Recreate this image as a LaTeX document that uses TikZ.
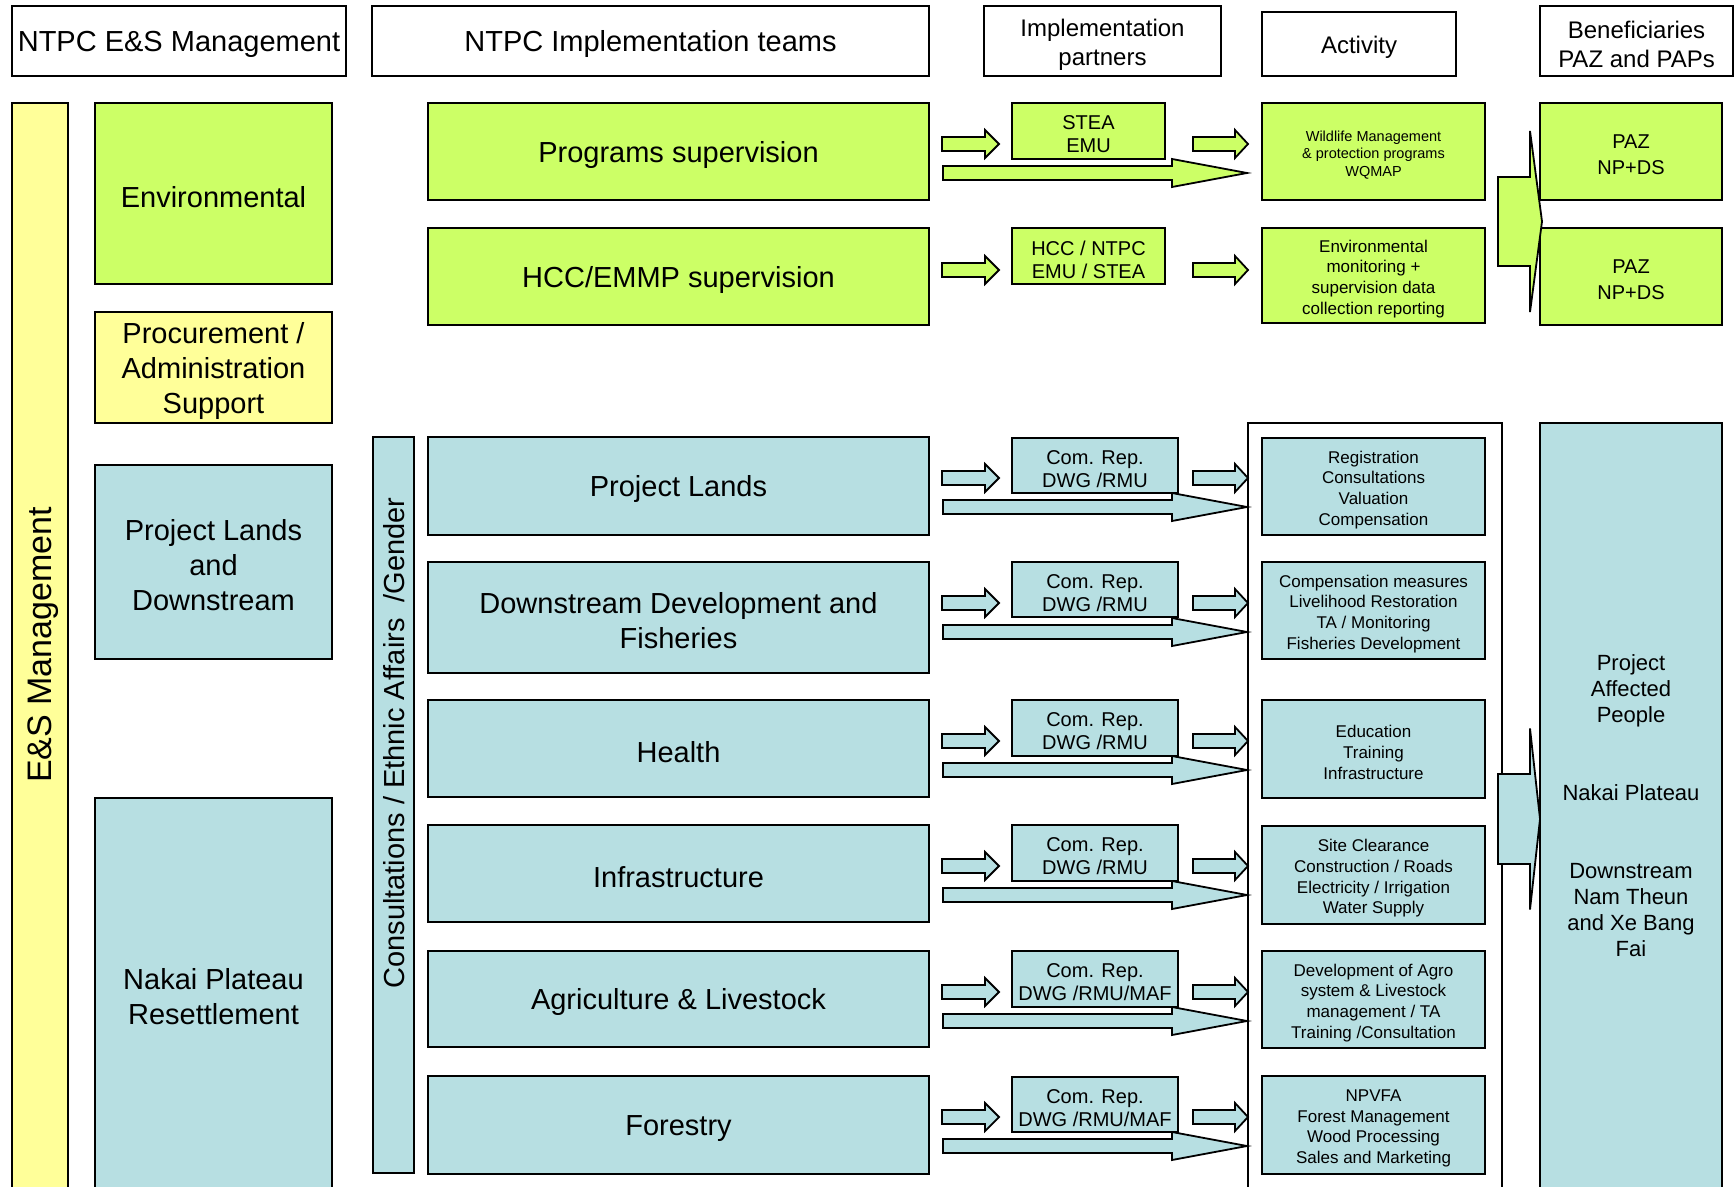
\documentclass[tikz,border=0pt]{standalone}
\usepackage{fontspec}
\setmainfont{Liberation Sans}
\definecolor{lgreen}{HTML}{CCFF66}
\definecolor{lblue}{HTML}{B7DFE2}
\definecolor{lyellow}{HTML}{FFFF99}
\newcommand\fs[2]{\fontsize{#1}{#2}\selectfont}
% box by corners: name, style, x1, y1, x2, y2, text (text set slightly low, as in the reference)
\newcommand\bx[7]{\node[#2, minimum width={(#5-#3)*0.5pt}, minimum height={(#6-#4)*0.5pt}] (#1) at (#3,#4) {};
 \node[#2, draw=none, fill=none, anchor=center, minimum width=0pt, minimum height=0pt, yshift=-1.7pt] (#1-text) at (#1.center) {#7};}
% block arrow: style, xstart, xtip, xheadback, ycenter, bodyhalf, headhalf
\newcommand\blockarrow[7]{\draw[#1] (#2,#5-#6) -- (#4,#5-#6) -- (#4,#5-#7) -- (#3,#5) -- (#4,#5+#7) -- (#4,#5+#6) -- (#2,#5+#6) -- cycle;}
\newcommand\rowarrows[2]{%
 \blockarrow{#1}{943}{1247}{1172}{#2+70}{7}{14}
 \blockarrow{#1}{942}{999}{985}{#2+41}{7}{14}
 \blockarrow{#1}{1193}{1248}{1235}{#2+41}{7}{14}
}
\tikzset{
 bx/.style={draw=black, line width=0.9pt, inner sep=0pt, outer sep=0pt, align=center, anchor=north west},
 gbox/.style={bx, fill=lgreen},
 bbox/.style={bx, fill=lblue},
 ybox/.style={bx, fill=lyellow},
 wbox/.style={bx, fill=white},
 garrow/.style={draw=black, line width=0.9pt, fill=lgreen, line join=miter},
 barrow/.style={draw=black, line width=0.9pt, fill=lblue, line join=miter},
 mfont/.style={font=\fs{14.5}{17.5}},
 sfont/.style={font=\fs{12}{14.5}},
 pfont/.style={font=\fs{10}{11.5}},
 afont/.style={font=\fs{8.5}{10.35}},
 wfont/.style={font=\fs{7.25}{8.85}},
 pazfont/.style={font=\fs{10}{13.25}},
 papfont/.style={font=\fs{11}{13}},
 esfont/.style={font=\fs{17}{20}},
}
\begin{document}
\begin{tikzpicture}[x=0.5pt,y=-0.5pt]
\useasboundingbox (0,0) rectangle (1734,1187);
\clip (0,0) rectangle (1734,1187);

% headers
\bx{h1}{wbox,mfont}{12}{6}{346}{76}{NTPC E\&S Management}
\bx{h2}{wbox,mfont}{372}{6}{929}{76}{NTPC Implementation teams}
\bx{h3}{wbox,sfont}{984}{6}{1221}{76}{Implementation\\partners}
\bx{h4}{wbox,sfont}{1262}{12}{1456}{76}{Activity}
\bx{h5}{wbox,sfont}{1540}{6}{1733}{76}{Beneficiaries\\PAZ and PAPs}

% left column
\bx{es}{ybox}{12}{103}{68}{1189}{}
\node[rotate=90, esfont] (eslabel) at (43,645) {E\&S Management};
\bx{env}{gbox,mfont}{95}{103}{332}{284}{Environmental}
\bx{proc}{ybox,mfont}{95}{312}{332}{423}{Procurement /\\Administration\\Support}
\bx{pld}{bbox,mfont}{95}{465}{332}{659}{Project Lands\\and\\Downstream}
\bx{nakai}{bbox,mfont}{95}{798}{332}{1189}{Nakai Plateau\\Resettlement}

% consultations bar
\bx{cons}{bbox}{373}{437}{414}{1173}{}
\node[rotate=90, mfont] (conslabel) at (394,743) {Consultations / Ethnic Affairs\ \ /Gender};

% activity frame and beneficiaries
\bx{actframe}{wbox}{1248}{423}{1502}{1189}{}
\bx{pap}{bbox}{1540}{423}{1722}{1189}{}
\node[papfont, align=center] (paplabel) at (1631,806) {Project\\Affected\\People\\[26pt]Nakai Plateau\\[26pt]Downstream\\Nam Theun\\and Xe Bang\\Fai};

% block arrows (drawn below the boxes)
\rowarrows{garrow}{103}
\blockarrow{garrow}{942}{999}{985}{270}{7}{14}
\blockarrow{garrow}{1193}{1248}{1235}{270}{7}{14}
\rowarrows{barrow}{437}
\rowarrows{barrow}{562}
\rowarrows{barrow}{700}
\rowarrows{barrow}{825}
\rowarrows{barrow}{951}
\rowarrows{barrow}{1076}

% teams
\bx{t1}{gbox,mfont}{428}{103}{929}{200}{Programs supervision}
\bx{t2}{gbox,mfont}{428}{228}{929}{325}{HCC/EMMP supervision}
\bx{t3}{bbox,mfont}{428}{437}{929}{535}{Project Lands}
\bx{t4}{bbox,mfont}{428}{562}{929}{673}{Downstream Development and\\Fisheries}
\bx{t5}{bbox,mfont}{428}{700}{929}{797}{Health}
\bx{t6}{bbox,mfont}{428}{825}{929}{922}{Infrastructure}
\bx{t7}{bbox,mfont}{428}{951}{929}{1047}{Agriculture \& Livestock}
\bx{t8}{bbox,mfont}{428}{1076}{929}{1174}{Forestry}

% partners
\bx{p1}{gbox,pfont}{1012}{103}{1165}{159}{STEA\\EMU}
\bx{p2}{gbox,pfont}{1012}{228}{1165}{284}{HCC / NTPC\\EMU / STEA}
\bx{p3}{bbox,pfont}{1012}{438}{1178}{493}{Com. Rep.\\DWG /RMU}
\bx{p4}{bbox,pfont}{1012}{562}{1178}{617}{Com. Rep.\\DWG /RMU}
\bx{p5}{bbox,pfont}{1012}{700}{1178}{756}{Com. Rep.\\DWG /RMU}
\bx{p6}{bbox,pfont}{1012}{825}{1178}{881}{Com. Rep.\\DWG /RMU}
\bx{p7}{bbox,pfont}{1012}{951}{1178}{1007}{Com. Rep.\\DWG /RMU/MAF}
\bx{p8}{bbox,pfont}{1012}{1077}{1178}{1132}{Com. Rep.\\DWG /RMU/MAF}

% activities
\bx{a1}{gbox,wfont}{1262}{103}{1485}{200}{Wildlife Management\\\& protection programs\\WQMAP}
\bx{a2}{gbox,afont}{1262}{228}{1485}{323}{Environmental\\monitoring +\\supervision data\\collection reporting}
\bx{a3}{bbox,afont}{1262}{438}{1485}{535}{Registration\\Consultations\\Valuation\\Compensation}
\bx{a4}{bbox,afont}{1262}{562}{1485}{659}{Compensation measures\\Livelihood Restoration\\TA / Monitoring\\Fisheries Development}
\bx{a5}{bbox,afont}{1262}{700}{1485}{798}{Education\\Training\\Infrastructure}
\bx{a6}{bbox,afont}{1262}{826}{1485}{924}{Site Clearance\\Construction / Roads\\Electricity / Irrigation\\Water Supply}
\bx{a7}{bbox,afont}{1262}{951}{1485}{1048}{Development of Agro\\system \& Livestock\\management / TA\\Training /Consultation}
\bx{a8}{bbox,afont}{1262}{1076}{1485}{1174}{NPVFA\\Forest Management\\Wood Processing\\Sales and Marketing}

% PAZ boxes
\bx{z1}{gbox,pazfont}{1540}{103}{1722}{200}{PAZ\\NP+DS}
\bx{z2}{gbox,pazfont}{1540}{228}{1722}{325}{PAZ\\NP+DS}

% big arrows
\blockarrow{garrow}{1498}{1542}{1530}{221.5}{44.5}{90.5}
\blockarrow{barrow}{1498}{1540}{1530}{819}{45}{90.5}
\end{tikzpicture}
\end{document}
